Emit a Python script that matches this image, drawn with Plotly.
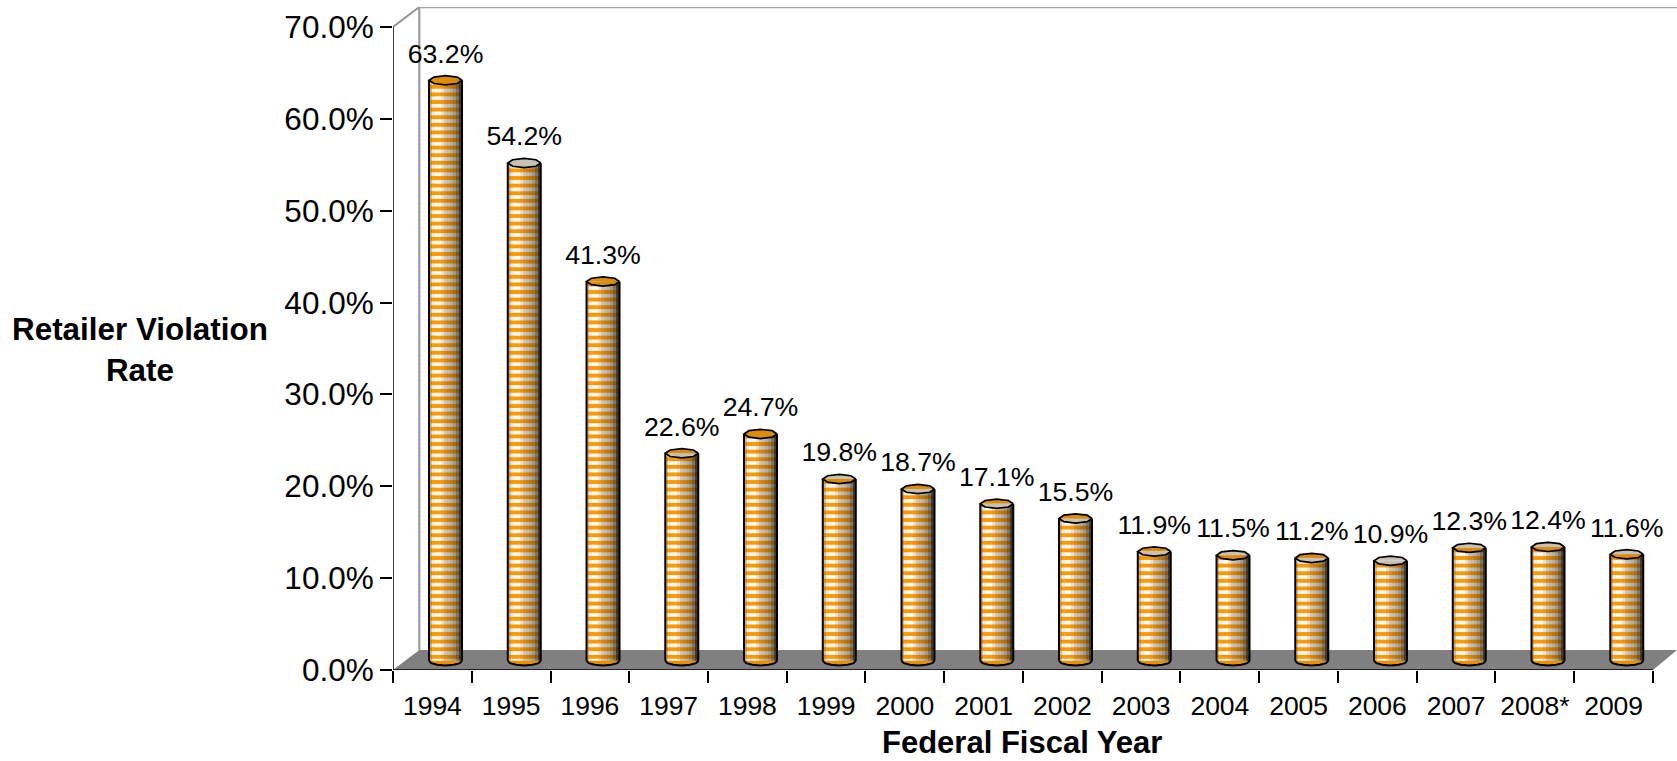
import math
import plotly.graph_objects as go

years = ["1994","1995","1996","1997","1998","1999","2000","2001","2002","2003","2004","2005","2006","2007","2008*","2009"]
rates = [63.2,54.2,41.3,22.6,24.7,19.8,18.7,17.1,15.5,11.9,11.5,11.2,10.9,12.3,12.4,11.6]
cap_back_orange  = [1,0,1,1,1,0,1,1,1,1,0,1,0,0,0,0]
cap_front_orange = [1,0,1,0,1,1,0,0,0,0,1,0,0,1,1,1]
y_ticks = [0,10,20,30,40,50,60,70]

ORANGE_SHADES = ["#d98a00","#ff9900","#ff9900","#ff9900","#f59300","#e08800","#d08000","#c07600","#b06c00","#8f5800","#503200"]
LIGHT_SHADES  = ["#c0c0c0","#eeeeee","#ffffff","#ffffff","#e4e4e4","#c8c8c8","#bebebe","#b0b0b0","#9c9c9c","#787878","#404040"]
CAP_ORANGE, CAP_GREY = "#dc8c08", "#c8c2b6"

DEPTH_X, DEPTH_Y = 0.334, 2.18
BAR_LIFT = 1.0
BAR_W = 0.419
RY = 0.50
n = len(years)
xmax = 16.305
ymax = 72.18
centers = [i + 0.667 for i in range(n)]

fig = go.Figure()
S = len(ORANGE_SHADES)
for j in range(S):
    off = (j + 0.5 - S / 2) * BAR_W / S
    fig.add_trace(go.Bar(
        x=[c + off for c in centers], y=rates, base=BAR_LIFT, width=BAR_W / S * 1.03,
        marker=dict(color=LIGHT_SHADES[j], line=dict(width=0),
                    pattern=dict(shape="-", fgcolor=ORANGE_SHADES[j], bgcolor=LIGHT_SHADES[j],
                                 size=7.6, solidity=0.52, fillmode="replace")),
        hoverinfo="skip", showlegend=False))

def arc(c, yc, a0=0.0, a1=2 * math.pi, k=8):
    xs, ys = [], []
    for t in range(k + 1):
        a = a0 + (a1 - a0) * t / k
        xs.append(c + BAR_W / 2 * math.cos(a))
        ys.append(yc + RY * math.sin(a))
    return xs, ys

# bottom caps
bx, by = [], []
for c in centers:
    xs, ys = arc(c, BAR_LIFT, math.pi, 2 * math.pi, 6)
    bx += xs + [None]; by += ys + [None]
fig.add_trace(go.Scatter(x=bx, y=by, mode="lines", fill="toself", fillcolor="#e89000",
                         line=dict(color="black", width=2), hoverinfo="skip", showlegend=False))

# sides
sx, sy = [], []
for c, r in zip(centers, rates):
    for d in (-BAR_W / 2, BAR_W / 2):
        sx += [c + d, c + d, None]; sy += [BAR_LIFT, r + BAR_LIFT, None]
fig.add_trace(go.Scatter(x=sx, y=sy, mode="lines", line=dict(color="black", width=2),
                         hoverinfo="skip", showlegend=False))

# top caps: back half and front half filled separately
for flags, a0, a1 in ((cap_back_orange, 0.0, math.pi), (cap_front_orange, math.pi, 2 * math.pi)):
    for flag, col in ((1, CAP_ORANGE), (0, CAP_GREY)):
        tx, ty = [], []
        for c, r, f in zip(centers, rates, flags):
            if f == flag:
                xs, ys = arc(c, r + BAR_LIFT, a0, a1, 4)
                tx += xs + [None]; ty += ys + [None]
        fig.add_trace(go.Scatter(x=tx, y=ty, mode="lines", fill="toself", fillcolor=col,
                                 line=dict(width=0), hoverinfo="skip", showlegend=False))
ox, oy = [], []
for c, r in zip(centers, rates):
    xs, ys = arc(c, r + BAR_LIFT)
    ox += xs + [None]; oy += ys + [None]
fig.add_trace(go.Scatter(x=ox, y=oy, mode="lines", line=dict(color="black", width=1.7),
                         hoverinfo="skip", showlegend=False))

# value labels
fig.add_trace(go.Scatter(
    x=centers, y=[r + BAR_LIFT + 1.2 for r in rates], mode="text",
    text=[f"{r:.1f}%" for r in rates], textposition="top center",
    textfont=dict(family="Liberation Sans", size=26.7, color="black"),
    cliponaxis=False, hoverinfo="skip", showlegend=False))

shapes = [
    dict(type="path", layer="below", line=dict(width=0), fillcolor="#808080",
         path=f"M0,0 L{DEPTH_X},{DEPTH_Y} L{xmax},{DEPTH_Y} L{n},0 Z"),
    dict(type="line", layer="below", x0=DEPTH_X, x1=DEPTH_X, y0=DEPTH_Y, y1=ymax, line=dict(color="#949494", width=2)),
    dict(type="line", layer="below", x0=DEPTH_X, x1=xmax, y0=ymax - 0.03, y1=ymax - 0.03, line=dict(color="#a0a0a0", width=2)),
    dict(type="line", layer="below", x0=0, x1=DEPTH_X, y0=70, y1=ymax, line=dict(color="#949494", width=2)),
    dict(type="line", layer="above", x0=0, x1=0, y0=0, y1=70, line=dict(color="black", width=1.5)),
    dict(type="line", layer="above", x0=0, x1=n, y0=0, y1=0, line=dict(color="black", width=1.5)),
]

annotations = [
    dict(text="<b>Retailer Violation<br>Rate</b>", xref="paper", yref="paper", x=-0.197, y=0.483,
         xanchor="center", yanchor="middle", showarrow=False, align="center",
         font=dict(family="Liberation Sans", size=31.4, color="black")),
    dict(text="<b>Federal Fiscal Year</b>", xref="x", yref="paper", x=7.985, y=-0.110,
         xanchor="center", yanchor="middle", showarrow=False,
         font=dict(family="Liberation Sans", size=31, color="black")),
]

fig.update_layout(
    width=1677, height=761, autosize=False,
    margin=dict(l=393, r=0, t=7, b=91, pad=0),
    paper_bgcolor="white", plot_bgcolor="white",
    barmode="overlay", bargap=0, showlegend=False,
    shapes=shapes, annotations=annotations,
    font=dict(family="Liberation Sans", color="black"),
    xaxis=dict(range=[0, xmax], tickmode="array", tickvals=[i + 0.5 for i in range(n)], ticktext=years,
               ticks="", showgrid=False, zeroline=False, showline=False,
               tickfont=dict(family="Liberation Sans", size=26.5), ticklabelstandoff=17,
               minor=dict(ticks="outside", tick0=0, dtick=1, ticklen=12, tickwidth=1.5, tickcolor="black", showgrid=False)),
    yaxis=dict(range=[0, ymax], tickmode="array", tickvals=y_ticks, ticktext=[f"{v:.1f}%" for v in y_ticks],
               ticks="outside", ticklen=12, tickwidth=1.5, tickcolor="black", showgrid=False,
               zeroline=False, showline=False, tickfont=dict(family="Liberation Sans", size=31.5)),
)

fig.write_html("out.html", config={"displayModeBar": False},
               post_script="document.body.style.margin='0';")
